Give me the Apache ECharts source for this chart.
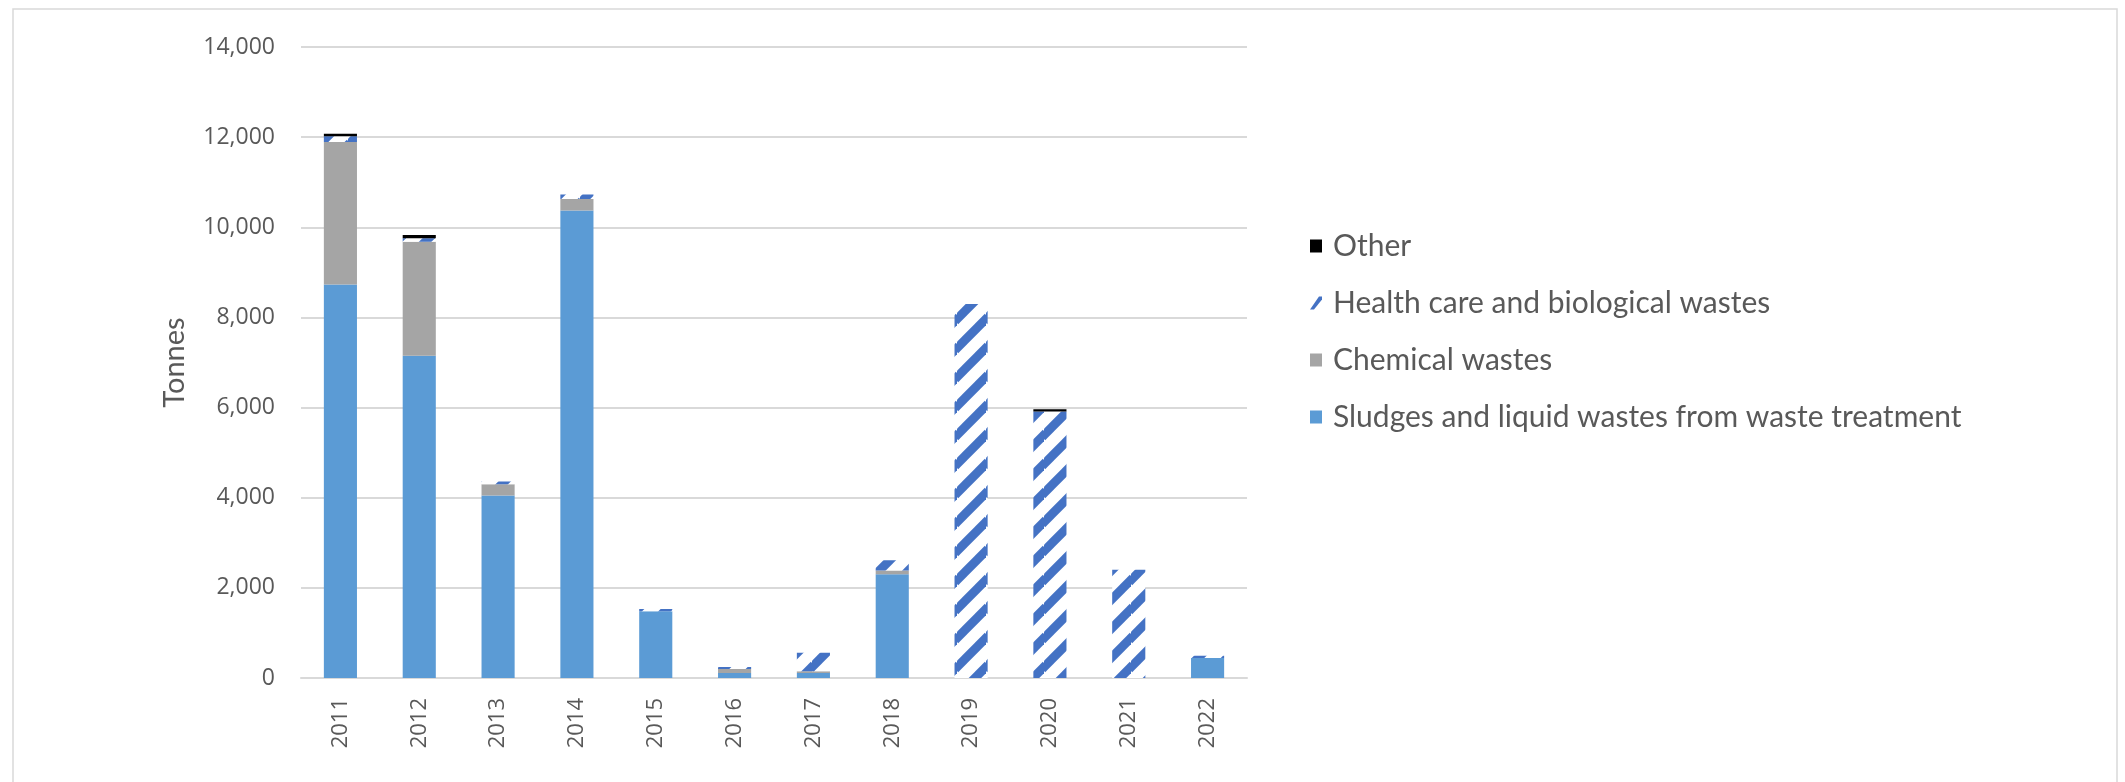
<!DOCTYPE html>
<html>
<head>
<meta charset="utf-8">
<script src="https://cdn.jsdelivr.net/npm/echarts@6/dist/echarts.min.js"></script>
<style>
  html, body { margin: 0; padding: 0; background: #ffffff; }
  #chart { width: 2125px; height: 782px; }
</style>
</head>
<body>
<div id="chart"></div>
<script>
// ---- data ----
const years = ['2011', '2012', '2013', '2014', '2015', '2016', '2017', '2018', '2019', '2020', '2021', '2022'];
const sludges = [8730, 7150, 4050, 10370, 1480, 110, 110, 2300, 0, 0, 0, 445];
const chemical = [3160, 2530, 250, 260, 0, 90, 40, 85, 0, 0, 0, 0];
const health = [130, 75, 60, 95, 50, 45, 410, 230, 8300, 5915, 2400, 50];
const other = [55, 75, 0, 0, 0, 0, 0, 0, 0, 45, 0, 0];
const seriesNames = ['Sludges and liquid wastes from waste treatment', 'Chemical wastes', 'Health care and biological wastes', 'Other'];
const yTicks = { min: 0, max: 14000, interval: 2000 };

// ---- stripe pattern ----
function makeStripe() {
  const T = 29;
  const c = document.createElement('canvas');
  c.width = T; c.height = T;
  const g = c.getContext('2d');
  g.fillStyle = '#ffffff';
  g.fillRect(0, 0, T, T);
  g.strokeStyle = '#4472C4';
  g.lineWidth = 9;
  g.lineCap = 'butt';
  for (const off of [0, T, 2 * T]) {
    g.beginPath();
    g.moveTo(-2, off + 2);
    g.lineTo(T + 2, off - T - 2);
    g.stroke();
  }
  return c;
}
const stripe = { image: makeStripe(), repeat: 'repeat' };

const chart = echarts.init(document.getElementById('chart'), null, { renderer: 'canvas' });
const barGap = '58%';
const option = {
  animation: false,
  backgroundColor: '#ffffff',
  graphic: [{
    type: 'rect',
    shape: { x: 13, y: 9, width: 2104, height: 800 },
    style: { fill: 'none', stroke: '#D9D9D9', lineWidth: 1.5 },
    silent: true
  }],
  grid: { left: 301, right: 878, top: 47, bottom: 104 },
  legend: {
    orient: 'vertical',
    left: 1305,
    top: 226,
    icon: 'rect',
    itemWidth: 12,
    itemHeight: 13,
    itemGap: 27,
    data: [
      seriesNames[3],
      { name: seriesNames[2], icon: 'path://M0,13 L4,13 L12,3 L12,0 L9,0 Z', itemStyle: { color: '#4472C4' } },
      seriesNames[1],
      seriesNames[0]
    ],
    textStyle: { fontFamily: 'Lato', fontSize: 30, color: '#595959', lineHeight: 30, padding: [0, 0, 0, 6] }
  },
  xAxis: {
    type: 'category',
    data: years,
    axisLine: { lineStyle: { color: '#D9D9D9', width: 2 } },
    axisTick: { show: false },
    axisLabel: { rotate: 90, margin: 20, fontFamily: 'Open Sans', fontSize: 22, color: '#595959' }
  },
  yAxis: {
    type: 'value',
    min: yTicks.min, max: yTicks.max, interval: yTicks.interval,
    name: 'Tonnes',
    nameLocation: 'middle',
    nameGap: 112,
    nameRotate: 90,
    nameTextStyle: { fontFamily: 'Lato', fontSize: 29, color: '#595959' },
    axisLine: { show: false },
    axisTick: { show: false },
    splitLine: { lineStyle: { color: '#D9D9D9', width: 2 } },
    axisLabel: {
      margin: 26, fontFamily: 'Open Sans', fontSize: 23, color: '#595959',
      formatter: v => v.toLocaleString('en-US')
    }
  },
  series: [
    { name: seriesNames[0], type: 'bar', stack: 't', data: sludges, barCategoryGap: barGap, itemStyle: { color: '#5B9BD5' } },
    { name: seriesNames[1], type: 'bar', stack: 't', data: chemical, barCategoryGap: barGap, itemStyle: { color: '#A5A5A5' } },
    { name: seriesNames[2], type: 'bar', stack: 't', data: health, barCategoryGap: barGap, itemStyle: { color: stripe } },
    { name: seriesNames[3], type: 'bar', stack: 't', data: other, barCategoryGap: barGap, itemStyle: { color: '#000000' } }
  ]
};
chart.setOption(option);
</script>
</body>
</html>
